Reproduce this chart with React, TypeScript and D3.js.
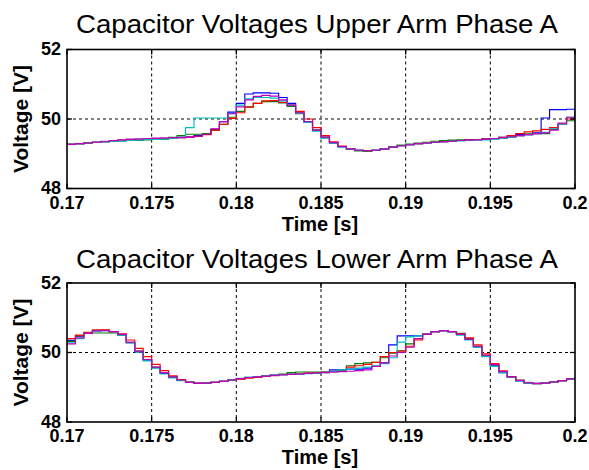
import React from "react";
import * as d3 from "d3";

const TIME = [0.17,0.1705,0.171,0.1715,0.172,0.1725,0.173,0.1735,0.174,0.1745,0.175,0.1755,0.176,0.1765,0.177,0.1775,0.178,0.1785,0.179,0.1795,0.18,0.1805,0.181,0.1815,0.182,0.1825,0.183,0.1835,0.184,0.1845,0.185,0.1855,0.186,0.1865,0.187,0.1875,0.188,0.1885,0.189,0.1895,0.19,0.1905,0.191,0.1915,0.192,0.1925,0.193,0.1935,0.194,0.1945,0.195,0.1955,0.196,0.1965,0.197,0.1975,0.198,0.1985,0.199,0.1995,0.2];

const X_TICKS = [0.17, 0.175, 0.18, 0.185, 0.19, 0.195, 0.2];
const X_TICK_LABELS = ["0.17", "0.175", "0.18", "0.185", "0.19", "0.195", "0.2"];
const Y_TICKS = [48, 50, 52];
const Y_TICK_LABELS = ["48", "50", "52"];

const SERIES_NAMES = ["blue", "green", "red", "cyan", "magenta"];
const SERIES_COLORS = ["#0000ff", "#008000", "#ff0000", "#00bfbf", "#bf00bf"];

// Upper arm
const UPPER_BLUE = [49.27,49.29,49.31,49.33,49.35,49.36,49.38,49.39,49.40,49.41,49.42,49.43,49.44,49.46,49.48,49.52,49.58,49.70,49.92,50.20,50.45,50.72,50.75,50.75,50.74,50.62,50.45,50.20,49.92,49.68,49.46,49.30,49.20,49.14,49.10,49.09,49.10,49.14,49.19,49.23,49.26,49.29,49.31,49.33,49.35,49.37,49.38,49.40,49.41,49.42,49.44,49.47,49.52,49.55,49.55,49.60,50.03,50.27,50.27,50.28,50.30];
const UPPER_GREEN = [49.27,49.29,49.31,49.33,49.35,49.36,49.37,49.38,49.39,49.40,49.41,49.43,49.47,49.52,49.56,49.56,49.58,49.68,49.85,50.05,50.22,50.35,50.45,50.50,50.50,50.46,50.36,50.15,49.90,49.68,49.48,49.32,49.21,49.13,49.08,49.07,49.10,49.15,49.21,49.25,49.28,49.31,49.33,49.36,49.38,49.39,49.40,49.40,49.41,49.42,49.43,49.45,49.48,49.52,49.57,49.58,49.58,49.70,49.85,49.95,50.05];
const UPPER_RED = [49.27,49.29,49.31,49.33,49.35,49.37,49.39,49.40,49.41,49.42,49.43,49.44,49.45,49.46,49.48,49.50,49.55,49.68,49.85,50.02,50.18,50.34,50.45,50.52,50.53,50.48,50.40,50.22,50.00,49.75,49.52,49.34,49.22,49.14,49.10,49.09,49.10,49.14,49.19,49.23,49.26,49.29,49.31,49.33,49.35,49.36,49.38,49.39,49.41,49.42,49.44,49.47,49.52,49.58,49.63,49.66,49.70,49.75,49.85,50.00,50.20];
const UPPER_CYAN = [49.27,49.29,49.31,49.33,49.35,49.36,49.37,49.38,49.40,49.41,49.41,49.42,49.44,49.48,49.75,50.03,50.03,50.03,50.03,50.15,50.40,50.58,50.62,50.62,50.60,50.52,50.40,50.18,49.90,49.65,49.45,49.30,49.20,49.14,49.10,49.09,49.10,49.14,49.19,49.23,49.26,49.29,49.31,49.33,49.35,49.36,49.37,49.38,49.39,49.40,49.42,49.44,49.48,49.52,49.55,49.58,49.62,49.72,49.85,50.05,50.25];
const UPPER_MAGENTA = [49.27,49.29,49.31,49.33,49.36,49.38,49.40,49.42,49.43,49.44,49.45,49.46,49.46,49.47,49.48,49.50,49.56,49.72,49.92,50.15,50.35,50.55,50.65,50.68,50.66,50.55,50.40,50.18,49.92,49.68,49.48,49.32,49.21,49.14,49.10,49.09,49.10,49.14,49.19,49.23,49.26,49.29,49.31,49.33,49.35,49.36,49.38,49.39,49.40,49.42,49.44,49.46,49.49,49.52,49.55,49.58,49.60,49.68,49.88,50.05,50.32];

// Lower arm
const LOWER_BLUE = [50.35,50.47,50.56,50.63,50.64,50.60,50.50,50.28,50.02,49.78,49.56,49.40,49.28,49.20,49.14,49.11,49.12,49.14,49.17,49.21,49.25,49.28,49.30,49.32,49.34,49.36,49.37,49.38,49.40,49.41,49.43,49.50,49.50,49.52,49.52,49.55,49.60,49.70,50.22,50.48,50.48,50.48,50.53,50.60,50.63,50.60,50.52,50.38,50.16,49.90,49.62,49.42,49.28,49.18,49.12,49.10,49.12,49.15,49.19,49.24,49.29];
const LOWER_GREEN = [50.32,50.48,50.55,50.56,50.56,50.56,50.50,50.28,50.04,49.80,49.58,49.42,49.30,49.21,49.14,49.11,49.12,49.14,49.17,49.21,49.25,49.28,49.30,49.33,49.35,49.38,49.42,49.44,49.44,49.44,49.44,49.46,49.48,49.62,49.68,49.70,49.72,49.85,49.98,50.05,50.25,50.40,50.52,50.60,50.63,50.60,50.55,50.40,50.18,49.92,49.65,49.45,49.30,49.20,49.13,49.11,49.12,49.15,49.19,49.24,49.29];
const LOWER_RED = [50.40,50.50,50.58,50.65,50.65,50.60,50.54,50.36,50.12,49.88,49.66,49.48,49.33,49.22,49.15,49.12,49.12,49.14,49.17,49.21,49.23,49.26,49.28,49.31,49.33,49.36,49.37,49.39,49.41,49.42,49.43,49.44,49.46,49.58,49.62,49.66,49.72,49.88,50.00,50.04,50.18,50.36,50.52,50.60,50.63,50.60,50.54,50.42,50.22,49.96,49.68,49.47,49.31,49.20,49.12,49.10,49.12,49.15,49.19,49.24,49.29];
const LOWER_CYAN = [50.28,50.40,50.55,50.62,50.63,50.60,50.50,50.28,50.02,49.76,49.55,49.38,49.27,49.19,49.14,49.11,49.12,49.14,49.17,49.21,49.26,49.29,49.31,49.33,49.35,49.36,49.37,49.38,49.39,49.40,49.42,49.45,49.50,49.52,49.55,49.58,49.62,49.68,49.85,50.30,50.45,50.48,50.52,50.60,50.62,50.60,50.50,50.36,50.15,49.88,49.60,49.42,49.28,49.18,49.12,49.10,49.12,49.15,49.19,49.24,49.29];
const LOWER_MAGENTA = [50.25,50.42,50.55,50.62,50.63,50.60,50.52,50.30,50.04,49.80,49.58,49.42,49.30,49.21,49.14,49.11,49.12,49.14,49.17,49.21,49.25,49.28,49.30,49.32,49.34,49.36,49.37,49.38,49.40,49.41,49.42,49.44,49.45,49.46,49.48,49.50,49.60,49.70,49.90,50.00,50.15,50.40,50.52,50.60,50.63,50.60,50.52,50.38,50.18,49.92,49.65,49.45,49.30,49.20,49.13,49.11,49.12,49.15,49.19,49.24,49.29];

const UPPER_SERIES = [UPPER_BLUE, UPPER_GREEN, UPPER_RED, UPPER_CYAN, UPPER_MAGENTA];
const LOWER_SERIES = [LOWER_BLUE, LOWER_GREEN, LOWER_RED, LOWER_CYAN, LOWER_MAGENTA];

const FONT = "'Liberation Sans', Arial, Helvetica, sans-serif";
const LEFT = 67;
const RIGHT = 575;
const PLOT_H = 139;

type PanelProps = {
  id: string;
  title: string;
  top: number;
  titleY: number;
  series: number[][];
};

function Panel({ id, title, top, titleY, series }: PanelProps) {
  const bottom = top + PLOT_H;
  const x = d3.scaleLinear().domain([0.17, 0.2]).range([LEFT, RIGHT]);
  const y = d3.scaleLinear().domain([48, 52]).range([bottom, top]);
  const line = d3
    .line<[number, number]>()
    .x((d) => x(d[0]))
    .y((d) => y(d[1]))
    .curve(d3.curveStepAfter);
  const tickLen = 5;
  return (
    <g>
      <defs>
        <clipPath id={id}>
          <rect x={LEFT} y={top} width={RIGHT - LEFT} height={PLOT_H} />
        </clipPath>
      </defs>
      <text
        x={317}
        y={titleY}
        textAnchor="middle"
        fontFamily={FONT}
        fontSize={26}
        textLength={482}
        lengthAdjust="spacingAndGlyphs"
        fill="#000"
      >
        {title}
      </text>
      {X_TICKS.slice(1, -1).map((t) => (
        <line key={"gx" + t} x1={x(t)} x2={x(t)} y1={top} y2={bottom} stroke="#000" strokeWidth={1} strokeDasharray="3,3" />
      ))}
      {Y_TICKS.slice(1, -1).map((v) => (
        <line key={"gy" + v} x1={LEFT} x2={RIGHT} y1={y(v)} y2={y(v)} stroke="#000" strokeWidth={1} strokeDasharray="3,3" />
      ))}
      <g clipPath={`url(#${id})`}>
        {series.map((vals, i) => (
          <path
            key={SERIES_NAMES[i]}
            d={line(TIME.map((t, k) => [t, vals[k]] as [number, number])) || ""}
            fill="none"
            stroke={SERIES_COLORS[i]}
            strokeWidth={1.15}
          />
        ))}
      </g>
      <rect x={LEFT} y={top} width={RIGHT - LEFT} height={PLOT_H} fill="none" stroke="#000" strokeWidth={1.6} />
      {X_TICKS.map((t) => (
        <g key={"tx" + t}>
          <line x1={x(t)} x2={x(t)} y1={bottom} y2={bottom - tickLen} stroke="#000" strokeWidth={1.3} />
          <line x1={x(t)} x2={x(t)} y1={top} y2={top + tickLen} stroke="#000" strokeWidth={1.3} />
        </g>
      ))}
      {Y_TICKS.map((v) => (
        <g key={"ty" + v}>
          <line x1={LEFT} x2={LEFT + tickLen} y1={y(v)} y2={y(v)} stroke="#000" strokeWidth={1.3} />
          <line x1={RIGHT} x2={RIGHT - tickLen} y1={y(v)} y2={y(v)} stroke="#000" strokeWidth={1.3} />
        </g>
      ))}
      {X_TICKS.map((t, i) => (
        <text key={"lx" + t} x={x(t)} y={bottom + 20} textAnchor="middle" fontFamily={FONT} fontSize={18} fontWeight="bold" fill="#000">
          {X_TICK_LABELS[i]}
        </text>
      ))}
      {Y_TICKS.map((v, i) => (
        <text key={"ly" + v} x={LEFT - 6} y={y(v) + 5.5} textAnchor="end" fontFamily={FONT} fontSize={18} fontWeight="bold" fill="#000">
          {Y_TICK_LABELS[i]}
        </text>
      ))}
      <text x={320} y={bottom + 42} textAnchor="middle" fontFamily={FONT} fontSize={20} fontWeight="bold" fill="#000">
        Time [s]
      </text>
      <text
        transform={`translate(27.5, ${(top + bottom) / 2}) rotate(-90)`}
        textAnchor="middle"
        fontFamily={FONT}
        fontSize={21}
        fontWeight="bold"
        fill="#000"
      >
        Voltage [V]
      </text>
    </g>
  );
}

export default function App() {
  return (
    <svg
      width={589}
      height={470}
      viewBox="0 0 589 470"
      style={{ position: "absolute", left: 0, top: 0, background: "#fff", display: "block" }}
    >
      <rect x={0} y={0} width={589} height={470} fill="#fff" />
      <Panel id="clipUpper" title="Capacitor Voltages Upper Arm Phase A" top={49.5} titleY={33} series={UPPER_SERIES} />
      <Panel id="clipLower" title="Capacitor Voltages Lower Arm Phase A" top={283} titleY={268} series={LOWER_SERIES} />
    </svg>
  );
}
